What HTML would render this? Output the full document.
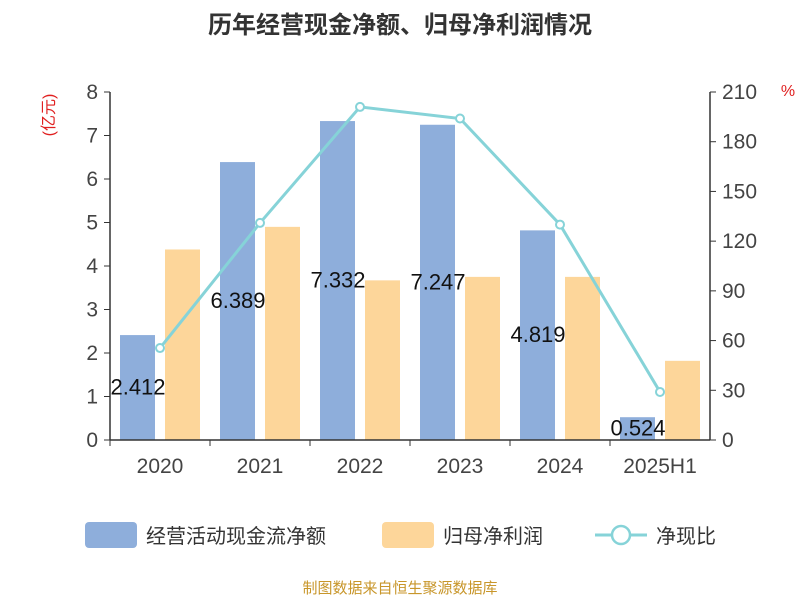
<!DOCTYPE html>
<html><head><meta charset="utf-8"><style>
body{margin:0;background:#fff;}
svg text{font-family:"Liberation Sans","Noto Sans CJK SC",sans-serif;}
</style></head><body>
<svg id="chart" width="800" height="600" xmlns="http://www.w3.org/2000/svg">
<text x="400" y="33" text-anchor="middle" font-size="24" font-weight="bold" fill="#333">历年经营现金净额、归母净利润情况</text>
<text transform="translate(54,115) rotate(-90)" text-anchor="middle" font-size="16" fill="#e02020">(亿元)</text>
<text x="788" y="96" text-anchor="middle" font-size="16" fill="#e02020">%</text>
<g id="grid"></g><g id="bars"></g><g id="line"></g><g id="labels"></g><g id="axes"></g>
<g>
<rect x="85" y="522" width="52" height="26" rx="4" fill="#8eaedb"/>
<text x="146" y="543" font-size="20" fill="#333">经营活动现金流净额</text>
<rect x="382" y="522" width="52" height="26" rx="4" fill="#fdd69a"/>
<text x="443" y="543" font-size="20" fill="#333">归母净利润</text>
<line x1="595" y1="535" x2="647" y2="535" stroke="#86d3d8" stroke-width="3"/>
<circle cx="621" cy="535" r="9" fill="#fff" stroke="#86d3d8" stroke-width="2.5"/>
<text x="656" y="543" font-size="20" fill="#333">净现比</text>
</g>
<text x="400" y="593" text-anchor="middle" font-size="15" fill="#c8962a">制图数据来自恒生聚源数据库</text>
</svg>
<script>
const categories=["2020","2021","2022","2023","2024","2025H1"];
const cashflow=[2.412,6.389,7.332,7.247,4.819,0.524];
const profit=[4.38,4.9,3.67,3.75,3.75,1.82];
const ratio=[55.5,131,201,194,130,29];
const leftTicks=[0,1,2,3,4,5,6,7,8];
const rightTicks=[0,30,60,90,120,150,180,210];
const NS="http://www.w3.org/2000/svg";
const X0=110,X1=710,Y0=440,Y1=92;
const band=(X1-X0)/categories.length;
const xc=i=>X0+band*(i+0.5);
const yL=v=>Y0-(v/8)*(Y0-Y1);
const yR=v=>Y0-(v/210)*(Y0-Y1);
function mk(tag,attrs,parent){const e=document.createElementNS(NS,tag);for(const k in attrs)e.setAttribute(k,attrs[k]);document.getElementById(parent).appendChild(e);return e;}
const ax="#333";
let e=mk("line",{x1:X0,y1:Y1,x2:X0,y2:Y0,stroke:ax,"stroke-width":1.5},"axes");


e=mk("line",{x1:X1,y1:Y1,x2:X1,y2:Y0,stroke:ax,"stroke-width":1.5},"axes");


e=mk("line",{x1:X0,y1:Y0,x2:X1,y2:Y0,stroke:ax,"stroke-width":1.5},"axes");


leftTicks.forEach(v=>{
 const y=yL(v);
 let t=mk("line",{x1:X0-6,y1:y,x2:X0,y2:y,stroke:ax},"axes");
 
 
 t=mk("text",{x:X0-12,y:y+7,"text-anchor":"end","font-size":21,fill:"#444"},"axes");t.textContent=v;
 
 
});
rightTicks.forEach(v=>{
 const y=yR(v);
 let t=mk("line",{x1:X1,y1:y,x2:X1+6,y2:y,stroke:ax},"axes");
 
 
 t=mk("text",{x:X1+12,y:y+7,"text-anchor":"start","font-size":21,fill:"#444"},"axes");t.textContent=v;
 
 
});
categories.forEach((c,i)=>{
 let t=mk("line",{x1:X0+band*i,y1:Y0,x2:X0+band*i,y2:Y0+6,stroke:ax},"axes");
 
 
 t=mk("text",{x:xc(i),y:Y0+33,"text-anchor":"middle","font-size":21,fill:"#444"},"axes");t.textContent=c;
 
 
 const b=mk("rect",{x:xc(i)-40,y:yL(cashflow[i]),width:35,height:Y0-yL(cashflow[i]),fill:"#8eaedb"},"bars");
 
 
 const p=mk("rect",{x:xc(i)+5,y:yL(profit[i]),width:35,height:Y0-yL(profit[i]),fill:"#fdd69a"},"bars");
 
 
 const l=mk("text",{x:xc(i)-22,y:(yL(cashflow[i])+Y0)/2+7,"text-anchor":"middle","font-size":22,fill:"#111"},"labels");
 l.textContent=cashflow[i].toFixed(3);
 
 
});
const pts=ratio.map((v,i)=>xc(i)+","+yR(v)).join(" ");
const pl=mk("polyline",{points:pts,fill:"none",stroke:"#86d3d8","stroke-width":3},"line");


ratio.forEach((v,i)=>{
 const c=mk("circle",{cx:xc(i),cy:yR(v),r:4,fill:"#fff",stroke:"#86d3d8","stroke-width":2},"line");
 
 
});
</script>
</body></html>
